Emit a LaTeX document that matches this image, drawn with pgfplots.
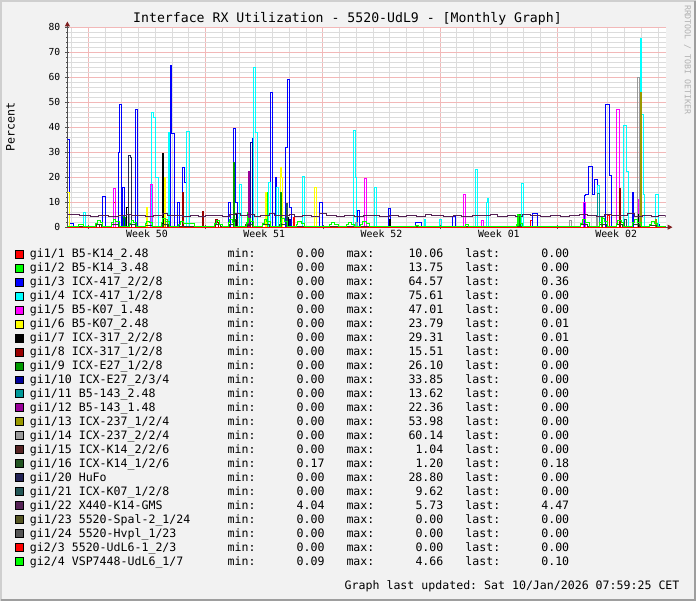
\documentclass[border=0pt]{standalone}
\usepackage{fontspec}
\setmainfont{DejaVu Sans Mono}
\usepackage{pgfplots}
\pgfplotsset{compat=1.18}
\usetikzlibrary{arrows.meta}
\frenchspacing

\definecolor{bgc}{HTML}{F2F2F2}
\definecolor{shadea}{HTML}{CFCFCF}
\definecolor{shadeb}{HTML}{9E9E9E}
\definecolor{mgrid}{HTML}{F2B8B8}
\definecolor{sgrid}{HTML}{DCDCDC}
\definecolor{arrowc}{HTML}{7F1F1F}
\definecolor{axisc}{HTML}{505050}
% interface colours
\definecolor{c1}{HTML}{FF0000}
\definecolor{c2}{HTML}{00FF00}
\definecolor{c3}{HTML}{0000FF}
\definecolor{c4}{HTML}{00FFFF}
\definecolor{c5}{HTML}{FF00FF}
\definecolor{c6}{HTML}{FFFF00}
\definecolor{c7}{HTML}{000000}
\definecolor{c8}{HTML}{990000}
\definecolor{c9}{HTML}{009900}
\definecolor{c10}{HTML}{000099}
\definecolor{c11}{HTML}{009999}
\definecolor{c12}{HTML}{990099}
\definecolor{c13}{HTML}{999900}
\definecolor{c14}{HTML}{999999}
\definecolor{c15}{HTML}{552222}
\definecolor{c16}{HTML}{225522}
\definecolor{c20}{HTML}{222255}
\definecolor{c21}{HTML}{225555}
\definecolor{c22}{HTML}{552255}
\definecolor{c23}{HTML}{555522}
\definecolor{c24}{HTML}{555555}
\definecolor{c203}{HTML}{FF0000}
\definecolor{c204}{HTML}{00FF00}

% one legend line: name, min, max, last
\newcommand{\leg}[4]{\makebox[198bp][l]{#1}\makebox[97bp][l]{min:\hfill#2}\hspace{22bp}\makebox[97bp][l]{max:\hfill#3}\hspace{22bp}\makebox[104bp][l]{last:\hfill#4}}

\begin{document}
\begin{tikzpicture}[x=1bp,y=1bp]
\fill[bgc] (0,0) rectangle (697,602);
\draw[shadea, line width=2bp] (1,0) -- (1,601) -- (697,601);
\draw[shadeb, line width=2bp] (1,1) -- (696,1) -- (696,601);
\fill[white] (67.5,374.5) rectangle (666.5,574.5);

\node[font=\fontsize{13.2bp}{15bp}\selectfont] at (348,583) {Interface RX Utilization - 5520-UdL9 - [Monthly Graph]};
\node[rotate=90, font=\fontsize{11.6bp}{13bp}\selectfont] at (10.5,475) {Percent};
\node[rotate=-90, text=black!30, font=\fontsize{8.3bp}{10bp}\selectfont] at (688.5,542) {RRDTOOL / TOBI OETIKER};
\node[anchor=base west, inner sep=0pt, font=\fontsize{11.6bp}{14bp}\selectfont] at (345,12) {Graph last updated: Sat 10/Jan/2026 07:59:25 CET};

\begin{axis}[
  at={(67.5bp,374.5bp)}, anchor=south west, scale only axis,
  width=599bp, height=200bp,
  xmin=-1.25, xmax=34.45, ymin=0, ymax=80,
  axis x line=bottom, axis y line=left,
  x axis line style={draw=axisc, line width=1bp, shorten >=-7bp, -{Triangle[width=5bp,length=5bp,color=arrowc]}},
  y axis line style={draw=axisc, line width=1bp, shorten >=-6bp, -{Triangle[width=5bp,length=5bp,color=arrowc]}},
  grid=both,
  major grid style={draw=mgrid, line width=1bp},
  minor grid style={draw=sgrid, line width=1bp},
  xtick={0,7,14,21,28}, xticklabels={,,,,},
  minor xtick={-1,1,2,3,4,5,6,8,9,10,11,12,13,15,16,17,18,19,20,22,23,24,25,26,27,29,30,31,32,33,34},
  ytick={0,10,...,80},
  minor ytick={2,4,6,8,12,14,16,18,22,24,26,28,32,34,36,38,42,44,46,48,52,54,56,58,62,64,66,68,72,74,76,78},
  extra x ticks={3.5,10.5,17.5,24.5,31.5},
  extra x tick labels={Week 50,Week 51,Week 52,Week 01,Week 02},
  extra x tick style={grid=none, major tick length=0pt},
  tick style={draw=axisc, line width=0.6bp},
  major tick length=4bp, minor tick length=2bp, tick align=center,
  xticklabel style={font=\fontsize{9.9bp}{11bp}\selectfont, inner sep=0pt, anchor=north, yshift=-3bp},
  yticklabel style={font=\fontsize{9.7bp}{11bp}\selectfont, inner sep=0pt, anchor=east, xshift=-5bp},
  /pgf/number format/assume math mode=true,
  s/.style={const plot, line width=1bp, draw=#1},
  legend style={at={(-0.0876,-0.1015)}, anchor=north west, draw=none, fill=none,
    inner sep=0pt, outer sep=0pt, row sep=0.5bp, column sep=6bp,
    font=\fontsize{11.6bp}{14bp}\selectfont,
    nodes={inner sep=0pt, text height=10.5bp, text depth=3bp}},
  legend cell align=left,
  legend image code/.code={\draw[#1, draw=black, line width=1bp] (0.5bp,-4bp) rectangle (8.5bp,4bp);},
]
% gi1/1
\addplot[forget plot, s=c1] coordinates {(-1.25,0)(1.52,10.06)(1.6,0)(12.25,4)(12.33,0)(26.4,2.5)(26.5,0)(31.0,4.5)(31.08,0)(34.45,0)};
% gi1/2
\addplot[forget plot, s=c2] coordinates {(-1.25,0)(2.05,4.2)(2.15,0)(9.5,6)(9.58,0)(10.62,13.75)(10.7,0)(25.62,5.2)(25.7,0)(30.6,4)(30.7,0)(34.45,0)};
% gi1/3
\addplot[forget plot, s=c3] coordinates {(-1.25,35.3)(-1.1,1.5)(-0.9,0)(0.85,12.4)(1.0,0)(1.77,30)(1.86,49.3)(2.0,0)(2.04,16)(2.17,0)
  (2.83,47)(2.95,0)(4.88,64.57)(4.98,37.5)(5.12,0)(5.3,10)(5.42,0)(5.6,24)(5.75,18)(5.88,0)(8.39,10)(8.5,0)(8.68,39.7)(8.8,10)(8.9,0)
  (9.78,35.6)(9.86,0)(10.9,54)(10.98,0)(11.15,20)(11.24,0)(11.78,32)(11.91,59.3)(12.02,8)(12.12,0)(13.82,10)(13.95,0)(16.05,6.5)(16.2,0)
  (17.92,7.3)(18.05,0)(19.5,2)(19.9,0)(21.76,4.3)(21.9,0)(26.5,5.3)(26.8,0)(29.6,12.5)(29.7,13.2)(29.85,24.5)(30.08,13)(30.2,19.2)(30.38,0)
  (30.89,49.3)(31.09,20.5)(31.2,0)(32.46,14)(32.55,0)(33.9,1)(34.1,0)(34.45,0.36)};
% gi1/4
\addplot[forget plot, s=c4] coordinates {(-1.25,0)(-0.3,6)(-0.15,0)(3.76,46)(3.9,44)(4.02,20)(4.16,0)(4.76,38)(4.86,0)(5.88,38.5)(6.01,0)
  (9.05,17)(9.15,0)(9.88,64.1)(9.98,38)(10.11,0)(10.77,18)(10.85,0)(11.25,16)(11.33,0)(12.76,20.4)(12.89,0)(15.8,38.9)(15.94,20)(16.0,0)
  (17.07,16)(17.2,0)(20.04,3)(20.15,0)(20.96,3)(21.1,0)(23.08,23.3)(23.22,0)(23.75,10)(23.82,11.5)(23.9,0)(25.86,17.3)(25.99,0)
  (30.38,16.8)(30.5,0)(31.92,40.8)(32.1,22.4)(32.22,0)(32.94,75.61)(33.0,45)(33.12,13)(33.17,0)(33.83,13)(34.0,0)(34.45,0)};
% gi1/5
\addplot[forget plot, s=c5] coordinates {(-1.25,0)(1.5,15.3)(1.62,0)(3.7,17)(3.8,0)(9.6,19)(9.68,0)(16.46,19.3)(16.58,0)(22.42,12.9)(22.52,0)
  (23.48,2.5)(23.56,0)(29.58,10)(29.66,0)(31.51,47.01)(31.69,0)(32.75,11)(32.82,0)(34.45,0)};
% gi1/6
\addplot[forget plot, s=c6] coordinates {(-1.25,14)(-1.15,0)(3.47,8)(3.55,0)(4.53,20)(4.6,0)(10.57,14)(10.65,0)(11.44,23.79)(11.52,20)(11.6,0)
  (13.47,16)(13.6,0)(34.4,0.01)(34.45,0.01)};
% gi1/7
\addplot[forget plot, s=c7] coordinates {(-1.25,0)(2.3,8)(2.38,0)(4.4,29.31)(4.48,0)(8.75,5)(8.82,0)(11.85,4)(11.92,0)(17.95,3)(18.02,0)
  (32.85,5)(32.92,0)(34.45,0.01)};
% gi1/8
\addplot[forget plot, s=c8] coordinates {(-1.25,0)(5.61,14)(5.68,0)(6.8,6.4)(6.88,0)(7.6,3)(7.7,2)(7.78,0)(9.6,8)(9.66,0)(31.69,15.51)(31.76,0)
  (32.88,4)(32.95,0)(34.45,0)};
% gi1/9
\addplot[forget plot, s=c9] coordinates {(-1.25,0)(2.1,4)(2.2,0)(8.64,26.1)(8.72,0)(11.44,14)(11.5,0)(25.73,5)(25.8,0)(34.45,0)};
% gi1/10
\addplot[forget plot, s=c10] coordinates {(-1.25,0)(9.7,33.85)(9.78,0)(12.0,3)(12.08,0)(34.45,0)};
% gi1/11
\addplot[forget plot, s=c11] coordinates {(-1.25,0)(30.4,13.62)(30.48,0)(34.45,0)};
% gi1/12
\addplot[forget plot, s=c12] coordinates {(-1.25,0)(9.56,22.36)(9.63,0)(34.45,0)};
% gi1/13
\addplot[forget plot, s=c13] coordinates {(-1.25,0)(4.6,3)(4.7,0)(32.94,53.98)(33.0,0)(33.83,3)(33.9,0)(34.45,0)};
% gi1/14
\addplot[forget plot, s=c14] coordinates {(-1.25,0)(2.45,5)(2.55,0)(15.95,2)(16.05,0)(28.7,2.5)(28.85,0)(30.3,4)(30.38,0)(32.76,60.14)(32.88,0)(34.45,0)};
% gi1/15
\addplot[forget plot, s=c15] coordinates {(-1.25,0)(0.5,1)(0.65,0)(4.5,1.04)(4.7,0)(9.5,0.8)(9.7,0)(30.5,1)(30.7,0)(34.45,0)};
% gi1/16
\addplot[forget plot, s=c16] coordinates {(-1.25,0.3)(0.4,0.9)(0.8,0.3)(1.4,1.1)(1.8,0.3)(2.4,1)(2.8,0.3)(3.4,0.8)(3.8,0.3)(4.4,1.2)(4.8,0.3)
  (7.5,0.9)(7.9,0.3)(8.4,1)(8.8,0.3)(9.4,1.1)(9.8,0.3)(10.4,1)(10.8,0.3)(11.4,1)(11.8,0.3)(29.4,1)(29.8,0.3)(30.5,1.1)(30.9,0.3)
  (31.5,1)(31.9,0.3)(32.5,1)(32.9,0.3)(33.5,0.8)(33.9,0.18)(34.45,0.18)};
% gi1/20
\addplot[forget plot, s=c20] coordinates {(-1.25,0)(2.4,28.8)(2.5,28)(2.58,0)(8.8,3)(8.9,0)(34.45,0)};
% gi1/21
\addplot[forget plot, s=c21] coordinates {(-1.25,0)(11.8,9.62)(11.9,0)(32.0,3)(32.1,0)(34.45,0)};
% gi1/22
\addplot[forget plot, s=c22] coordinates {(-1.25,5.1)(-0.5,4.6)(0.1,4.3)(0.6,4.7)(1.2,4.4)(1.8,4.6)(2.3,5.2)(2.6,4.5)(3.0,4.8)(3.4,4.3)
  (3.9,4.6)(4.4,5.3)(4.7,4.5)(5.2,4.8)(5.6,4.4)(6.1,4.6)(6.6,4.3)(7.0,4.5)(7.5,4.8)(8.0,4.4)(8.4,5.0)(8.8,5.5)(9.1,4.6)(9.5,4.9)
  (9.9,4.4)(10.3,4.7)(10.8,5.3)(11.1,4.5)(11.6,4.7)(12.0,5.2)(12.3,4.4)(12.8,4.6)(13.3,4.3)(13.8,5.3)(14.2,4.5)(14.8,4.4)(15.3,4.6)
  (15.9,4.3)(16.4,4.8)(16.8,4.5)(17.4,4.4)(18.0,4.7)(18.5,4.4)(19.0,4.5)(19.6,4.3)(20.1,4.9)(20.5,4.5)(21.2,4.4)(21.8,4.7)(22.3,4.4)
  (22.9,4.8)(23.4,4.5)(24.0,5.0)(24.4,4.4)(25.0,4.6)(25.5,4.3)(25.9,4.9)(26.4,4.5)(27.0,4.4)(27.6,4.6)(28.2,4.3)(28.7,4.5)(29.3,5.1)
  (29.8,4.6)(30.3,4.4)(30.8,5.0)(31.2,4.5)(31.7,4.8)(32.2,5.3)(32.6,4.4)(33.1,4.8)(33.6,4.4)(34.0,4.6)(34.45,4.47)};
% gi1/23, gi1/24, gi2/3
\addplot[forget plot, s=c23] coordinates {(-1.25,0)(34.45,0)};
\addplot[forget plot, s=c24] coordinates {(-1.25,0)(34.45,0)};
\addplot[forget plot, s=c203] coordinates {(-1.25,0)(34.45,0)};
% gi2/4
\addplot[forget plot, s=c204] coordinates {(-1.25,0.4)(-0.6,1.2)(-0.3,0.3)
  (0.45,1.5)(0.55,2.6)(0.7,1.8)(0.85,0.3)(1.4,1.8)(1.5,3.2)(1.65,2.2)(1.85,0.4)(2.45,1.6)(2.55,2.8)(2.7,1.9)(2.9,0.3)
  (3.4,1.4)(3.5,2.4)(3.65,1.7)(3.85,0.3)(4.35,1.9)(4.45,3.4)(4.6,2.3)(4.85,0.4)(5.4,1.2)(5.5,2.2)(5.7,1.4)(6.35,0.3)
  (7.55,1.4)(7.65,2.6)(7.85,1.2)(8.0,0.3)(8.35,1.7)(8.45,3.0)(8.6,1.9)(8.75,0.4)(9.45,1.9)(9.55,3.6)(9.7,2.4)(9.85,0.4)
  (10.4,1.6)(10.5,3.1)(10.65,2.1)(10.85,0.3)(11.45,1.8)(11.55,3.3)(11.7,2.2)(11.9,0.4)(12.4,1.2)(12.5,2.4)(12.7,1.5)(12.9,0.3)
  (14.4,1.1)(14.5,1.9)(14.7,1.2)(14.9,0.3)(15.4,1.0)(15.5,1.8)(15.7,1.1)(15.9,0.3)(16.25,1.2)(16.35,2.1)(16.6,1.3)(16.8,0.3)
  (19.5,0.8)(19.7,0.3)(22.5,0.9)(22.7,0.3)(25.55,1.2)(25.65,4.66)(25.8,1.5)(25.9,0.3)
  (29.4,1.6)(29.5,2.9)(29.7,2.0)(29.9,0.4)(30.5,1.9)(30.6,3.3)(30.8,2.2)(31.0,0.4)(31.5,1.4)(31.6,2.6)(31.8,1.7)(31.95,0.3)
  (32.5,1.8)(32.6,3.1)(32.8,2.0)(33.0,0.4)(33.5,1.2)(33.6,2.2)(33.8,1.4)(33.95,0.3)(34.3,0.1)(34.45,0.1)};

% legend
\addlegendimage{fill=c1}\addlegendentry{\leg{gi1/1 B5-K14\_2.48}{0.00}{10.06}{0.00}}
\addlegendimage{fill=c2}\addlegendentry{\leg{gi1/2 B5-K14\_3.48}{0.00}{13.75}{0.00}}
\addlegendimage{fill=c3}\addlegendentry{\leg{gi1/3 ICX-417\_2/2/8}{0.00}{64.57}{0.36}}
\addlegendimage{fill=c4}\addlegendentry{\leg{gi1/4 ICX-417\_1/2/8}{0.00}{75.61}{0.00}}
\addlegendimage{fill=c5}\addlegendentry{\leg{gi1/5 B5-K07\_1.48}{0.00}{47.01}{0.00}}
\addlegendimage{fill=c6}\addlegendentry{\leg{gi1/6 B5-K07\_2.48}{0.00}{23.79}{0.01}}
\addlegendimage{fill=c7}\addlegendentry{\leg{gi1/7 ICX-317\_2/2/8}{0.00}{29.31}{0.01}}
\addlegendimage{fill=c8}\addlegendentry{\leg{gi1/8 ICX-317\_1/2/8}{0.00}{15.51}{0.00}}
\addlegendimage{fill=c9}\addlegendentry{\leg{gi1/9 ICX-E27\_1/2/8}{0.00}{26.10}{0.00}}
\addlegendimage{fill=c10}\addlegendentry{\leg{gi1/10 ICX-E27\_2/3/4}{0.00}{33.85}{0.00}}
\addlegendimage{fill=c11}\addlegendentry{\leg{gi1/11 B5-143\_2.48}{0.00}{13.62}{0.00}}
\addlegendimage{fill=c12}\addlegendentry{\leg{gi1/12 B5-143\_1.48}{0.00}{22.36}{0.00}}
\addlegendimage{fill=c13}\addlegendentry{\leg{gi1/13 ICX-237\_1/2/4}{0.00}{53.98}{0.00}}
\addlegendimage{fill=c14}\addlegendentry{\leg{gi1/14 ICX-237\_2/2/4}{0.00}{60.14}{0.00}}
\addlegendimage{fill=c15}\addlegendentry{\leg{gi1/15 ICX-K14\_2/2/6}{0.00}{1.04}{0.00}}
\addlegendimage{fill=c16}\addlegendentry{\leg{gi1/16 ICX-K14\_1/2/6}{0.17}{1.20}{0.18}}
\addlegendimage{fill=c20}\addlegendentry{\leg{gi1/20 HuFo}{0.00}{28.80}{0.00}}
\addlegendimage{fill=c21}\addlegendentry{\leg{gi1/21 ICX-K07\_1/2/8}{0.00}{9.62}{0.00}}
\addlegendimage{fill=c22}\addlegendentry{\leg{gi1/22 X440-K14-GMS}{4.04}{5.73}{4.47}}
\addlegendimage{fill=c23}\addlegendentry{\leg{gi1/23 5520-Spal-2\_1/24}{0.00}{0.00}{0.00}}
\addlegendimage{fill=c24}\addlegendentry{\leg{gi1/24 5520-Hvpl\_1/23}{0.00}{0.00}{0.00}}
\addlegendimage{fill=c203}\addlegendentry{\leg{gi2/3 5520-UdL6-1\_2/3}{0.00}{0.00}{0.00}}
\addlegendimage{fill=c204}\addlegendentry{\leg{gi2/4 VSP7448-UdL6\_1/7}{0.09}{4.66}{0.10}}
\end{axis}
\end{tikzpicture}
\end{document}
